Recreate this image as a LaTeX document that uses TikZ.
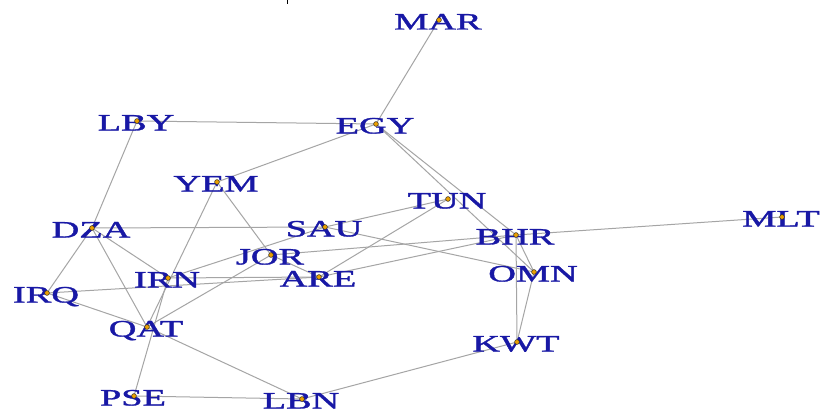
\documentclass[tikz,border=0pt]{standalone}
\usepackage{fontspec}
\setmainfont{Liberation Serif}
\newfontfamily\labelfont[FakeBold=1.2]{Liberation Serif}
\usepackage{graphicx}
\definecolor{labelblue}{RGB}{24,24,165}
\definecolor{edgegray}{RGB}{165,165,165}
\definecolor{vtxorange}{RGB}{235,160,0}
\tikzset{
  edge/.style={draw=edgegray, line width=1pt},
  vtx/.style={circle, draw=black!85, line width=0.5pt, fill=vtxorange, inner sep=0pt, minimum size=4.8pt},
  lab/.style={anchor=base, inner sep=0pt, text=labelblue, font=\labelfont\fontsize{23.5}{24}\selectfont},
}
\newcommand{\wide}[1]{\scalebox{1.63}[1]{#1}}
\begin{document}
\begin{tikzpicture}[x=1pt,y=-1pt]
\useasboundingbox (0,0) rectangle (822,412);
\fill[white] (0,0) rectangle (822,412);

% vertex positions
\coordinate (MAR) at (439,20);
\coordinate (LBY) at (137,121);
\coordinate (EGY) at (376,124);
\coordinate (YEM) at (217,182);
\coordinate (TUN) at (448,199);
\coordinate (MLT) at (782,217);
\coordinate (DZA) at (92,228);
\coordinate (SAU) at (325,227);
\coordinate (BHR) at (516,235);
\coordinate (JOR) at (271,255);
\coordinate (OMN) at (534,272);
\coordinate (IRN) at (168,278);
\coordinate (ARE) at (319,277);
\coordinate (IRQ) at (47,293);
\coordinate (QAT) at (147,327);
\coordinate (KWT) at (517,342);
\coordinate (PSE) at (134,396);
\coordinate (LBN) at (302,399);

% small mark at the top edge
\coordinate (tickA) at (287,0);
\coordinate (tickB) at (287,4);
\draw[black, line width=0.6pt] (tickA) -- (tickB);

% edges
\foreach \a/\b in {MAR/EGY, LBY/EGY, LBY/DZA, DZA/IRQ, EGY/YEM, EGY/BHR, EGY/OMN,
  YEM/QAT, YEM/JOR, DZA/SAU, DZA/IRN, DZA/QAT, SAU/TUN, SAU/OMN, SAU/IRN,
  TUN/ARE, BHR/MLT, BHR/JOR, BHR/ARE, BHR/KWT, BHR/OMN, OMN/KWT, IRN/ARE,
  IRQ/ARE, IRQ/QAT, IRN/PSE, JOR/QAT, JOR/ARE, QAT/LBN, PSE/LBN, LBN/KWT}
  \draw[edge] (\a) -- (\b);

% labels
\foreach \n in {MAR, LBY, EGY, YEM, TUN, MLT, DZA, SAU, BHR, JOR, OMN, IRN, ARE, IRQ, QAT, KWT, PSE, LBN}
  \node[lab] (t\n) at ([xshift=-1pt, yshift=-9.5pt]\n) {\wide{\n}};

% vertex dots
\foreach \n in {MAR, LBY, EGY, YEM, TUN, MLT, DZA, SAU, BHR, JOR, OMN, IRN, ARE, IRQ, QAT, KWT, PSE, LBN}
  \node[vtx] (d\n) at (\n) {};
\end{tikzpicture}
\end{document}
